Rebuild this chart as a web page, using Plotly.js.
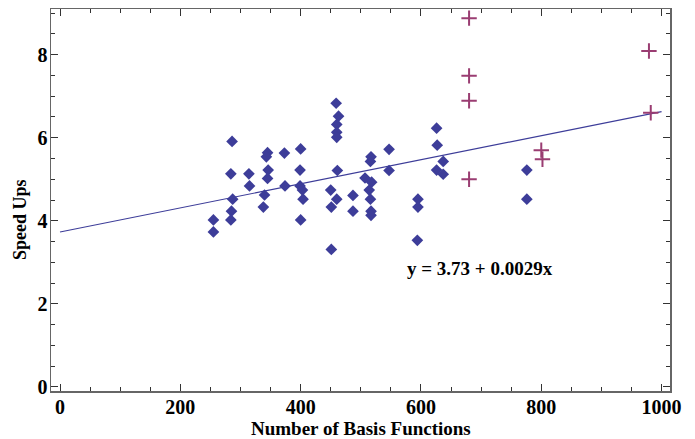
<!DOCTYPE html>
<html>
<head>
<meta charset="utf-8">
<script src="https://cdn.plot.ly/plotly-3.0.1.min.js"></script>
<style>html,body{margin:0;padding:0;background:#fff;}#chart{width:695px;height:439px;}</style>
</head>
<body>
<div id="chart"></div>
<script>
// Blue diamonds: basis functions vs speed ups
const basisX = [286,345,343,373,400,284,314,346,345,399,315,374,399,403,287,340,404,285,338,255,284,400,255,
  459,463,460,460,460,547,517,516,461,547,507,518,450,514,460,487,516,595,451,487,517,517,595,594,451,
  626,627,637,626,637,776,776];
const speedY = [5.91,5.64,5.54,5.63,5.73,5.13,5.13,5.22,5.02,5.22,4.84,4.84,4.84,4.74,4.52,4.62,4.52,4.23,4.33,4.02,4.02,4.02,3.73,
  6.83,6.52,6.32,6.13,6.01,5.72,5.54,5.43,5.21,5.21,5.03,4.93,4.74,4.74,4.52,4.61,4.52,4.52,4.33,4.23,4.23,4.13,4.33,3.53,3.31,
  6.23,5.82,5.43,5.22,5.12,5.22,4.52];
// Purple crosses
const crossX = [680,680,680,680,800,802,979,982];
const crossY = [8.88,7.49,6.89,5.00,5.70,5.48,8.09,6.60];
// Linear fit
const fitIntercept = 3.73;
const fitSlope = 0.0029;
const fitX = [0, 1000];
const fitY = fitX.map(x => fitIntercept + fitSlope * x);
const xTicks = [0,200,400,600,800,1000];
const yTicks = [0,2,4,6,8];

const blue = '#3d3d99';
const purple = '#9a3d72';
const fam = '"Liberation Serif", "Times New Roman", serif';

const traces = [
  {x: fitX, y: fitY, mode: 'lines', line: {color: blue, width: 1.2}, hoverinfo: 'skip'},
  {x: basisX, y: speedY, mode: 'markers', marker: {symbol: 'diamond', size: 9, color: blue}},
  {x: crossX, y: crossY, mode: 'markers', marker: {symbol: 'cross-thin-open', size: 11, color: purple, line: {color: purple, width: 2}}}
];

const axisCommon = {
  showgrid: false, zeroline: false, showline: true, linecolor: '#666', linewidth: 1.5,
  mirror: 'allticks', ticks: 'inside', ticklen: 7, tickwidth: 1, tickcolor: '#333',
  tickfont: {family: fam, size: 20, color: '#000', weight: 'bold'}
};

const layout = {
  width: 695, height: 439,
  margin: {l: 51, r: 25, t: 9, b: 48},
  paper_bgcolor: '#fff', plot_bgcolor: '#fff',
  showlegend: false,
  font: {family: fam, size: 18, color: '#000'},
  xaxis: Object.assign({}, axisCommon, {
    range: [-15, 1014], tickvals: xTicks, ticktext: xTicks.map(String), ticklabelstandoff: -3,
    minor: {dtick: 50, ticks: 'inside', ticklen: 4, tickcolor: '#333', tick0: 0}
  }),
  yaxis: Object.assign({}, axisCommon, {
    range: [-0.1, 9.1], tickvals: yTicks, ticktext: yTicks.map(String), ticklabelstandoff: -2,
    minor: {dtick: 0.5, ticks: 'inside', ticklen: 4, tickcolor: '#333', tick0: 0}
  }),
  annotations: [
    {x: 698, y: 2.86, xref: 'x', yref: 'y', showarrow: false, xanchor: 'center', yanchor: 'middle',
     text: '<b>y = 3.73 + 0.0029x</b>', font: {family: fam, size: 19, color: '#000'}},
    {x: 0.5, y: -0.097, xref: 'paper', yref: 'paper', showarrow: false, xanchor: 'center', yanchor: 'middle',
     text: '<b>Number of Basis Functions</b>', font: {family: fam, size: 19, color: '#000'}},
    {x: -0.05, y: 0.4476, xref: 'paper', yref: 'paper', showarrow: false, textangle: -90,
     xanchor: 'center', yanchor: 'middle',
     text: '<b>Speed Ups</b>', font: {family: fam, size: 18, color: '#000'}}
  ]
};

Plotly.newPlot('chart', traces, layout, {displayModeBar: false, staticPlot: true});
</script>
</body>
</html>
